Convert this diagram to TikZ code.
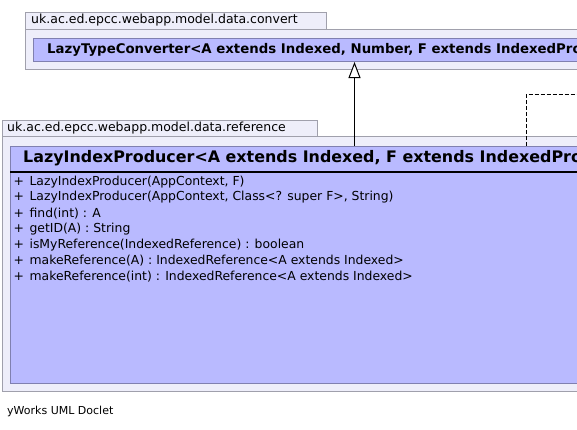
\documentclass[tikz,border=0pt]{standalone}
\usepackage{fontspec}
\setmainfont{DejaVu Sans}
\usetikzlibrary{arrows.meta}
\definecolor{pkgfill}{RGB}{238,238,250}
\definecolor{pkgline}{RGB}{160,160,172}
\definecolor{clsfill}{RGB}{185,186,255}
\definecolor{clsline}{RGB}{128,128,176}
\newcommand{\pub}{+\hspace{5.5pt}}
\tikzset{
  pkgbox/.style={draw=pkgline, fill=pkgfill, line width=1pt, rectangle, inner sep=0pt, anchor=north west},
  clsbox/.style={draw=clsline, fill=clsfill, line width=1pt, rectangle, inner sep=0pt, anchor=north west},
  pkglabel/.style={anchor=west, inner sep=0pt, font=\fontsize{12.5}{14}\selectfont},
  member/.style={anchor=west, inner sep=0pt, font=\fontsize{12.4}{14}\selectfont},
  smalltitle/.style={anchor=west, inner sep=0pt, font=\fontsize{13.3}{15}\selectfont\bfseries},
  bigtitle/.style={anchor=west, inner sep=0pt, font=\fontsize{15.9}{18}\selectfont\bfseries},
  note/.style={anchor=west, inner sep=0pt, font=\fontsize{11}{13}\selectfont},
  gen/.style={line width=1pt, -{Triangle[open, length=16pt, width=12pt, fill=white]}},
  dep/.style={line width=1pt, dashed, dash pattern=on 4pt off 2pt}
}
\begin{document}
\begin{tikzpicture}[x=1pt, y=-1pt]
\useasboundingbox (0,0) rectangle (577,429);
\clip (0,0) rectangle (577,429);
\fill[white] (0,0) rectangle (577,429);
% top package
\node[pkgbox, minimum width=300.7pt, minimum height=17.6pt] (tab1) at (25,11.7) {};
\node[pkgbox, minimum width=580pt, minimum height=39.7pt] (pkg1) at (25,29.3) {};
\node[pkglabel] (pkg1lbl) at (31,20.3) {uk.ac.ed.epcc.webapp.model.data.convert};
\node[clsbox, minimum width=560pt, minimum height=23.3pt] (ltc) at (33,37.7) {};
\node[smalltitle] (ltcname) at (47,49.5) {LazyTypeConverter<A extends Indexed, Number, F extends IndexedPro};
% lower package
\node[pkgbox, minimum width=315pt, minimum height=16.5pt] (tab2) at (1.7,119.5) {};
\node[pkgbox, minimum width=600pt, minimum height=255.3pt] (pkg2) at (1.7,136) {};
\node[pkglabel] (pkg2lbl) at (7,127.8) {uk.ac.ed.epcc.webapp.model.data.reference};
\node[clsbox, minimum width=590pt, minimum height=237.6pt] (lip) at (10.3,145.7) {};
\node[bigtitle] (lipname) at (23,158.5) {LazyIndexProducer<A extends Indexed, F extends IndexedPro};
\coordinate (sepL) at (10.3,171.5);
\coordinate (sepR) at (600,171.5);
\draw[line width=2pt] (sepL) -- (sepR);
\node[member] (m1) at (13.5,181.7) {\pub LazyIndexProducer(AppContext, F)};
\node[member] (m2) at (13.5,197.5) {\pub LazyIndexProducer(AppContext, Class<? super F>, String)};
\node[member] (m3) at (13.5,213.3) {\pub find(int) : A};
\node[member] (m4) at (13.5,229.2) {\pub getID(A) : String};
\node[member] (m5) at (13.5,245.1) {\pub isMyReference(IndexedReference) : boolean};
\node[member] (m6) at (13.5,261) {\pub makeReference(A) : IndexedReference<A extends Indexed>};
\node[member] (m7) at (13.5,276.8) {\pub makeReference(int) : IndexedReference<A extends Indexed>};
% connectors
\coordinate (ax) at (354.5,0);
\draw[gen] (lip.north -| ax) -- (ltc.south -| ax);
\coordinate (dx) at (526,0);
\coordinate (dend) at (600,94.3);
\draw[dep] (lip.north -| dx) -- (dend -| dx) -- (dend);
\node[note] (doclet) at (7,411.7) {yWorks UML Doclet};
\end{tikzpicture}
\end{document}
